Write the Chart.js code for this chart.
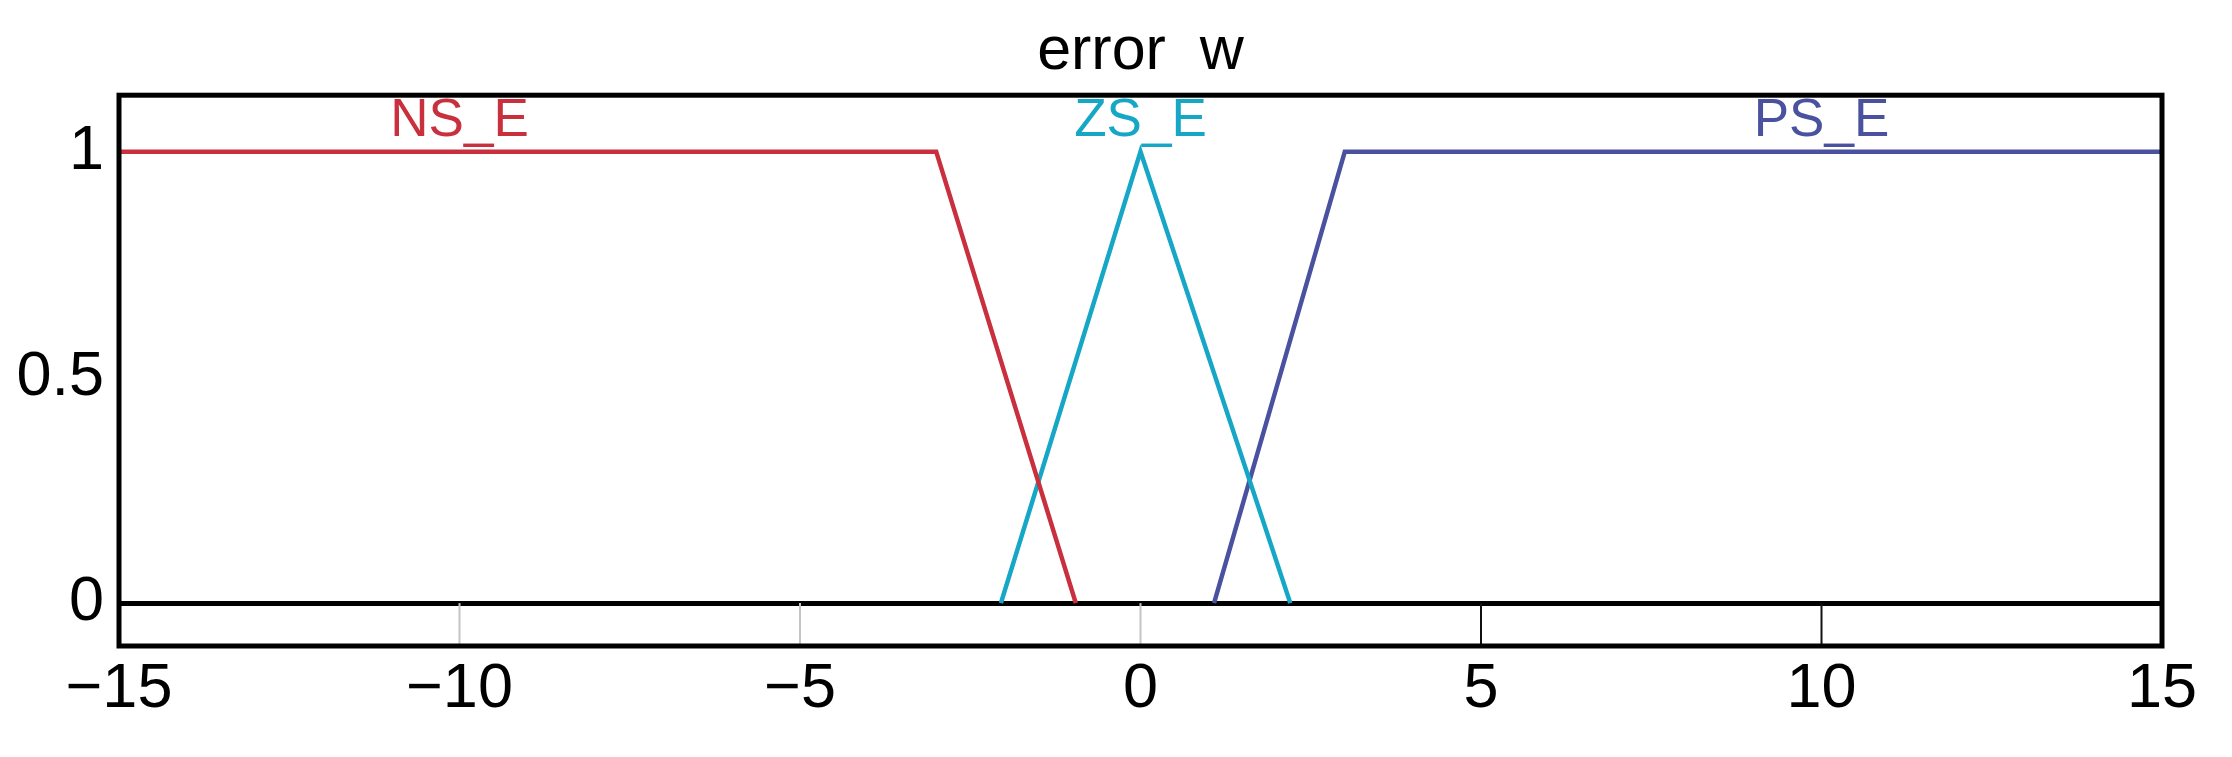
<!DOCTYPE html>
<html>
<head>
<meta charset="utf-8">
<script src="https://cdn.jsdelivr.net/npm/chart.js@4"></script>
<style>
  html, body { margin: 0; padding: 0; background: #fff; }
</style>
</head>
<body>
<canvas id="mfChart" width="2232" height="757"></canvas>
<script>
// membership function breakpoints
const xTicks = [-15, -10, -5, 0, 5, 10, 15];
const yTicks = [0, 0.5, 1];
const mfNames = ['NS_E', 'ZS_E', 'PS_E'];
const nsX = [-15, -3, -0.95];
const nsY = [1, 1, 0];
const zsX = [-2.05, 0, 2.2];
const zsY = [0, 1, 0];
const psX = [1.08, 3, 15];
const psY = [0, 1, 1];
const mfLabelX = [-10, 0, 10];

const mfColors = ['#c9303e', '#17a7c6', '#4a52a0'];
const FONT = "'Liberation Sans', Arial, sans-serif";

function toPoints(xs, ys) {
  return xs.map((x, i) => ({ x: x, y: ys[i] }));
}

// box around the axes, like the matlab plot
const framePlugin = {
  id: 'frame',
  beforeDatasetsDraw(chart) {
    const { ctx, chartArea, scales } = chart;
    const y0 = scales.y.getPixelForValue(0);
    ctx.save();
    ctx.lineWidth = 2;
    xTicks.slice(1, -1).forEach(v => {
      const px = scales.x.getPixelForValue(v);
      ctx.strokeStyle = v > 0 ? '#111' : '#c4c4c4';
      ctx.beginPath();
      ctx.moveTo(px, chartArea.bottom);
      ctx.lineTo(px, y0);
      ctx.stroke();
    });
    ctx.restore();
  },
  afterDatasetsDraw(chart) {
    const { ctx, chartArea, scales } = chart;
    ctx.save();
    ctx.strokeStyle = '#000';
    ctx.lineWidth = 5;
    ctx.strokeRect(chartArea.left, chartArea.top, chartArea.right - chartArea.left, chartArea.bottom - chartArea.top);

    // mf names above each curve
    ctx.font = '53px ' + FONT;
    ctx.textAlign = 'center';
    ctx.textBaseline = 'alphabetic';
    mfNames.forEach((name, i) => {
      ctx.fillStyle = mfColors[i];
      ctx.fillText(name, scales.x.getPixelForValue(mfLabelX[i]), scales.y.getPixelForValue(1.035));
    });
    ctx.restore();
  }
};

const ctx = document.getElementById('mfChart').getContext('2d');
new Chart(ctx, {
  type: 'scatter',
  data: {
    datasets: [
      { label: mfNames[0], data: toPoints(nsX, nsY) },
      { label: mfNames[1], data: toPoints(zsX, zsY) },
      { label: mfNames[2], data: toPoints(psX, psY) }
    ].map((ds, i) => Object.assign(ds, {
      showLine: true,
      borderColor: mfColors[i],
      borderWidth: 4.5,
      pointRadius: 0,
      tension: 0
    }))
  },
  options: {
    responsive: false,
    animation: false,
    devicePixelRatio: 1,
    layout: { padding: { left: 0, right: 70, top: 0, bottom: 0 } },
    plugins: {
      legend: { display: false },
      tooltip: { enabled: false },
      title: {
        display: true,
        text: 'error  w',
        color: '#000',
        fullSize: false,
        font: { family: FONT, size: 61, weight: 'normal', lineHeight: 1.2 },
        padding: { top: 16, bottom: 6 }
      }
    },
    scales: {
      x: {
        type: 'linear',
        min: -15,
        max: 15,
        afterBuildTicks: scale => { scale.ticks = xTicks.map(v => ({ value: v })); },
        afterFit: scale => { scale.height = 111; },
        grid: { display: false, drawTicks: false },
        border: { display: false },
        ticks: {
          color: '#000',
          padding: 6,
          maxRotation: 0,
          font: { family: FONT, size: 63 },
          callback: v => v < 0 ? '\u2212' + Math.abs(v) : String(v)
        }
      },
      y: {
        type: 'linear',
        min: -0.095,
        max: 1.125,
        afterBuildTicks: scale => { scale.ticks = yTicks.map(v => ({ value: v })); },
        afterFit: scale => { scale.width = 119; },
        grid: {
          drawTicks: false,
          lineWidth: 5,
          color: c => c.tick && c.tick.value === 0 ? '#000' : 'rgba(0,0,0,0)'
        },
        border: { display: false },
        ticks: {
          color: '#000',
          padding: 15,
          font: { family: FONT, size: 63 },
          callback: v => String(v)
        }
      }
    }
  },
  plugins: [framePlugin]
});
</script>
</body>
</html>
